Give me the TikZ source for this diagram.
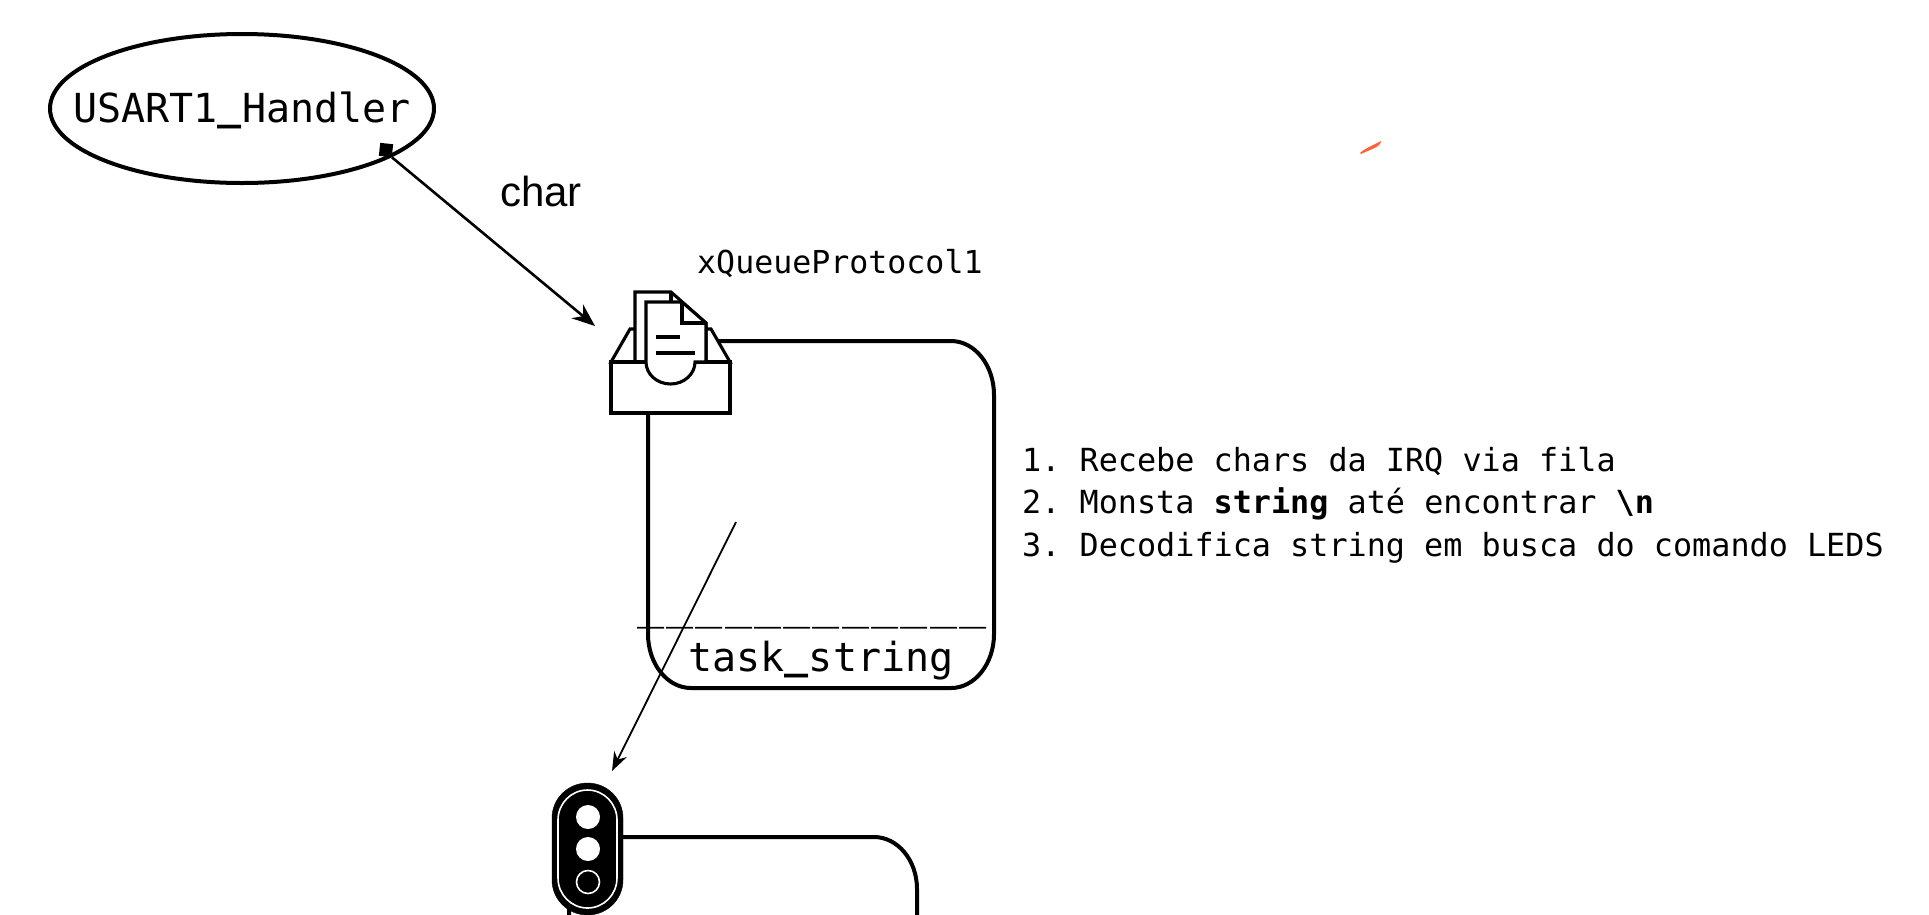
\documentclass[tikz,border=0pt]{standalone}
\usepackage{fontspec}
\setmainfont{DejaVu Sans Mono}
\newfontfamily\arialish{Liberation Sans}
\usetikzlibrary{arrows.meta,shapes.geometric}
\definecolor{straymark}{RGB}{255,98,58}
\newcommand\usc{\raisebox{0.07em}{\textbf{\_}}}
\tikzset{
  x=1pt,y=-1pt,
  outline/.style={draw=black,line width=4pt},
  iconline/.style={draw=black,line width=3.1pt,fill=white,line join=miter},
  mono/.style={inner sep=0pt,font=\fontsize{#1}{#1}\selectfont\frenchspacing},
  pointer/.style={draw=black,-{Stealth[length=23pt,width=18pt]}},
  thinpointer/.style={draw=black,-{Stealth[length=19pt,width=14pt]}},
}
\begin{document}
\begin{tikzpicture}
\useasboundingbox (0,0) rectangle (1929,914);
\clip (0,0) rectangle (1929,914);
\node[outline,ellipse,minimum width=384pt,minimum height=149pt,inner sep=0pt] (handler) at (242,108.5) {};
\node[mono=40,anchor=base] (handlername) at (242,122) {USART1\usc Handler};
\node[fill=black,rotate=-6,minimum size=13pt,inner sep=0pt] (port) at (386,150) {};
\coordinate (tipA) at (595,326);
\draw[pointer,line width=2.6pt] (port.south east) -- (tipA);
\node[inner sep=0pt,anchor=base,font=\arialish\fontsize{42}{42}\selectfont] (charlabel) at (541,206) {char};
\node[mono=31.6,anchor=base west] (queue) at (697,273) {xQueueProtocol1};
% task box
\draw[outline] (691,341) -- (951,341) arc[start angle=-90,end angle=0,x radius=43,y radius=54] -- (994,634) arc[start angle=0,end angle=90,x radius=43,y radius=54] -- (691,688) arc[start angle=90,end angle=180,x radius=43,y radius=54] -- (648,395) arc[start angle=180,end angle=270,x radius=43,y radius=54] -- cycle;
\node[mono=45,anchor=base west] (rule) at (637,618.7) {\addfontfeature{LetterSpace=4.9}\_\_\_\_\_\_\_\_\_\_\_\_};
\node[mono=40,anchor=base] (taskname) at (821,671) {task\usc string};
% inbox icon
\filldraw[iconline] (611,362) -- (630,329) -- (711,329) -- (730,362) -- cycle;
\filldraw[iconline] (635,362) -- (635,292) -- (671,292) -- (706,323) -- (706,362) -- cycle;
\draw[iconline,fill=none] (671,292) -- (671,302);
\filldraw[iconline] (611,362) rectangle (730,413);
\filldraw[iconline] (646,362) -- (646,302) -- (682,302) -- (706,323) -- (706,362) -- (695,362) arc[start angle=0,end angle=180,x radius=24.5,y radius=22] -- cycle;
\draw[iconline,fill=none] (682,302) -- (682,323) -- (706,323);
\draw[iconline,fill=none] (656,337) -- (680,337);
\draw[iconline,fill=none] (656,353) -- (695,353);
\fill[white] (648,360) rectangle (693,364.5);
% list
\node[mono=31.8,anchor=base west] (item1) at (1022,471) {1. Recebe chars da IRQ via fila};
\node[mono=31.8,anchor=base west] (item2) at (1022,513) {2. Monsta \textbf{string} até encontrar \textbf{\textbackslash n}};
\node[mono=31.8,anchor=base west] (item3) at (1022,556) {3. Decodifica string em busca do comando LEDS};
% thin arrow
\coordinate (fromA) at (736,522);
\coordinate (tipB) at (612,771);
\draw[thinpointer,line width=1.8pt] (fromA) -- (tipB);
% second box
\draw[outline] (569,930) -- (569,837) -- (874,837) arc[start angle=-90,end angle=0,x radius=43,y radius=52] -- (917,930);
% traffic light
\filldraw[black] (552,818) arc[start angle=180,end angle=360,x radius=35.5,y radius=35] -- (623,880) arc[start angle=0,end angle=180,x radius=35.5,y radius=35] -- cycle;
\draw[white,line width=1.6pt] (558,820) arc[start angle=180,end angle=360,x radius=29.5,y radius=30] -- (617,878) arc[start angle=0,end angle=180,x radius=29.5,y radius=30] -- cycle;
\fill[white] (588,817) circle[radius=12];
\fill[white] (588,849) circle[radius=12];
\draw[white,line width=1.6pt] (588,882) circle[radius=11.5];
% stray mark
\fill[straymark] (1360,153) .. controls (1366,147.5) and (1372,146) .. (1381,141) .. controls (1381,147) and (1370,149.5) .. (1361,154) -- cycle;
\end{tikzpicture}
\end{document}
